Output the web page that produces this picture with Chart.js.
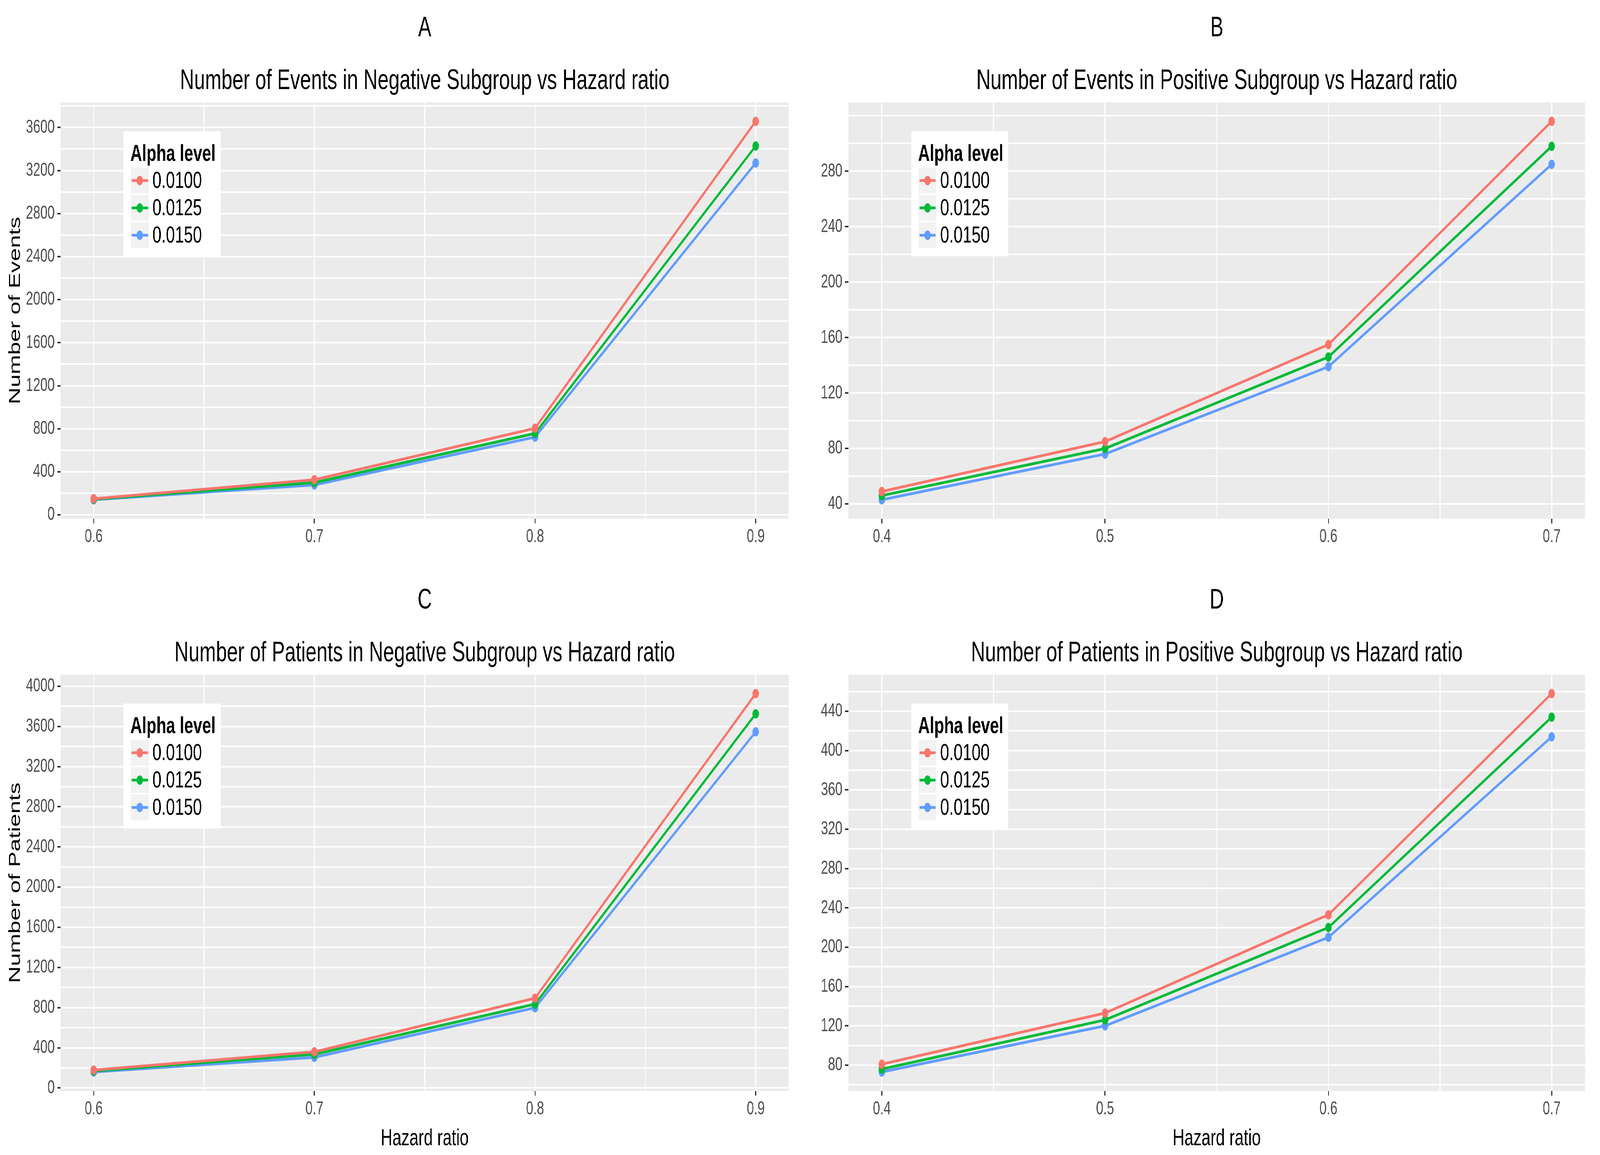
<!DOCTYPE html>
<html>
<head>
<meta charset="utf-8">
<script src="https://cdn.jsdelivr.net/npm/chart.js@4.4.1/dist/chart.umd.min.js"></script>
<style>
  html, body { margin: 0; padding: 0; background: #ffffff; overflow: hidden; }
  #figure { position: absolute; left: 0; top: 0; width: 5941px; height: 2957px; transform-origin: 0 0; }
  canvas { position: absolute; }
</style>
</head>
<body>
<div id="figure">
<canvas id="cA" width="2970" height="1465" style="left:0px;top:0px"></canvas>
<canvas id="cB" width="2971" height="1465" style="left:2970px;top:0px"></canvas>
<canvas id="cC" width="2970" height="1492" style="left:0px;top:1465px"></canvas>
<canvas id="cD" width="2971" height="1492" style="left:2970px;top:1465px"></canvas>
</div>
<script>
// the figure is laid out at 5941x2957 and stretched to fill the viewport we get
var fig = document.getElementById('figure');
fig.style.transform = 'scale(' + (window.innerWidth / 5941) + ',' + (window.innerHeight / 2957) + ')';

// hazard ratios on the x axis
var hrNegative = [0.6, 0.7, 0.8, 0.9];
var hrPositive = [0.4, 0.5, 0.6, 0.7];
var xLabelsNegative = ['0.6', '0.7', '0.8', '0.9'];
var xLabelsPositive = ['0.4', '0.5', '0.6', '0.7'];

var alphaLevels = ['0.0100', '0.0125', '0.0150'];
var alphaColors = ['#F8766D', '#00BA38', '#619CFF'];

// A - events, negative subgroup
var eventsNeg0100 = [150, 326, 805, 3657];
var eventsNeg0125 = [145, 300, 757, 3428];
var eventsNeg0150 = [140, 278, 723, 3270];
// B - events, positive subgroup
var eventsPos0100 = [49, 85, 155, 316];
var eventsPos0125 = [46, 80, 146, 298];
var eventsPos0150 = [43, 76, 139, 285];
// C - patients, negative subgroup
var patientsNeg0100 = [179, 360, 894, 3927];
var patientsNeg0125 = [170, 335, 835, 3725];
var patientsNeg0150 = [159, 305, 799, 3546];
// D - patients, positive subgroup
var patientsPos0100 = [81, 133, 233, 458];
var patientsPos0125 = [76, 126, 220, 434];
var patientsPos0150 = [73, 120, 210, 414];

// y tick labels of each panel
var yTicksA = [0, 400, 800, 1200, 1600, 2000, 2400, 2800, 3200, 3600];
var yTicksB = [40, 80, 120, 160, 200, 240, 280];
var yTicksC = [0, 400, 800, 1200, 1600, 2000, 2400, 2800, 3200, 3600, 4000];
var yTicksD = [80, 120, 160, 200, 240, 280, 320, 360, 400, 440];

var FONT = '"Liberation Sans", Arial, Helvetica, sans-serif';

// grey panel behind the plot
var panelBg = {
    id: 'panelBg',
    beforeDraw: function(chart) {
        var a = chart.chartArea, ctx = chart.ctx;
        ctx.save();
        ctx.fillStyle = '#EBEBEB';
        ctx.fillRect(a.left, a.top, a.right - a.left, a.bottom - a.top);
        ctx.restore();
    },
    // ggplot centres titles over the panel, not the whole figure
    afterLayout: function(chart) {
        var a = chart.chartArea;
        chart.boxes.forEach(function(b) {
            if (b.options && typeof b.options.text === 'string' && b.position === 'top') {
                b.left = a.left;
                b.right = a.right;
                b.width = a.right - a.left;
            }
        });
    }
};

// legend drawn inside the panel like ggplot's legend.position = c(x, y)
var insideLegend = {
    id: 'insideLegend',
    afterDatasetsDraw: function(chart, args, opts) {
        var ctx = chart.ctx, a = chart.chartArea;
        var x0 = a.left + opts.dx, y0 = a.top + opts.dy;
        ctx.save();
        ctx.fillStyle = '#ffffff';
        ctx.fillRect(x0, y0, 360, 320);
        ctx.fillStyle = '#000000';
        ctx.font = 'bold 60px ' + FONT;
        ctx.textBaseline = 'alphabetic';
        ctx.textAlign = 'left';
        ctx.fillText(opts.title, x0 + 25, y0 + 76);
        chart.data.datasets.forEach(function(ds, i) {
            var ky = y0 + 93 + i * 70;
            var kx = x0 + 27;
            ctx.fillStyle = '#F2F2F2';
            ctx.fillRect(kx, ky, 66, 66);
            ctx.strokeStyle = ds.borderColor;
            ctx.lineWidth = 7;
            ctx.beginPath();
            ctx.moveTo(kx + 3, ky + 33);
            ctx.lineTo(kx + 63, ky + 33);
            ctx.stroke();
            ctx.fillStyle = ds.borderColor;
            ctx.beginPath();
            ctx.arc(kx + 33, ky + 33, 12, 0, Math.PI * 2);
            ctx.fill();
            ctx.fillStyle = '#000000';
            ctx.font = '60px ' + FONT;
            ctx.textBaseline = 'middle';
            ctx.fillText(ds.label, x0 + 107, ky + 35);
        });
        ctx.restore();
    }
};

// ggplot style limits: data range plus 5% each side
function expandRange(values) {
    var lo = Math.min.apply(null, values), hi = Math.max.apply(null, values);
    var d = (hi - lo) * 0.05;
    return [lo - d, hi + d];
}

// major + minor grid positions inside the range
function gridValues(range, majors) {
    var step = (majors[1] - majors[0]) / 2;
    var out = [];
    for (var k = Math.ceil(range[0] / step - 1e-9); k <= Math.floor(range[1] / step + 1e-9); k++) {
        out.push(Math.round(k * step * 1e6) / 1e6);
    }
    return out;
}

function majorIndex(v, majors) {
    for (var i = 0; i < majors.length; i++) {
        if (Math.abs(majors[i] - v) < 1e-6) return i;
    }
    return -1;
}

function makeChart(id, p) {
    var allY = [].concat.apply([], p.series);
    var yRange = expandRange(allY);
    var xRange = expandRange(p.xs);
    var yGrid = gridValues(yRange, p.yTicks);
    var xGrid = gridValues(xRange, p.xs);

    var datasets = p.series.map(function(s, i) {
        return {
            label: alphaLevels[i],
            data: p.xs.map(function(x, j) { return {x: x, y: s[j]}; }),
            borderColor: alphaColors[i],
            backgroundColor: alphaColors[i],
            borderWidth: 7,
            pointRadius: 12,
            pointBorderWidth: 0,
            pointHoverRadius: 12,
            tension: 0,
            fill: false
        };
    });

    var tickColor = function(majors) {
        return function(c) {
            return (c.tick && majorIndex(c.tick.value, majors) >= 0) ? '#333333' : 'rgba(0,0,0,0)';
        };
    };

    return new Chart(document.getElementById(id), {
        type: 'line',
        data: {datasets: datasets},
        options: {
            responsive: false,
            animation: false,
            layout: {padding: {left: 0, right: p.padRight, top: 0, bottom: 0}},
            plugins: {
                legend: {display: false},
                tooltip: {enabled: false},
                title: {
                    display: true, text: p.letter, color: '#000000',
                    font: {family: FONT, size: 73, weight: 'normal', lineHeight: 1.2},
                    padding: {top: 29, bottom: 47}
                },
                subtitle: {
                    display: true, text: p.title, color: '#000000',
                    font: {family: FONT, size: 73, weight: 'normal', lineHeight: 1.2},
                    padding: {top: 0, bottom: 11}
                },
                insideLegend: {title: 'Alpha level', dx: 234, dy: 74}
            },
            scales: {
                x: {
                    type: 'linear',
                    min: xRange[0], max: xRange[1],
                    afterBuildTicks: function(scale) {
                        scale.ticks = xGrid.map(function(v) { return {value: v}; });
                    },
                    afterFit: function(scale) { scale.height = p.xHeight; },
                    border: {display: false},
                    grid: {color: '#ffffff', lineWidth: 4, tickLength: 12, tickWidth: 4, tickColor: tickColor(p.xs)},
                    ticks: {
                        autoSkip: false, maxRotation: 0, padding: 6, color: '#4D4D4D',
                        font: {family: FONT, size: 48},
                        callback: function(v) {
                            var k = majorIndex(v, p.xs);
                            return k >= 0 ? p.xLabels[k] : '';
                        }
                    },
                    title: {
                        display: !!p.xTitle, text: p.xTitle || '', color: '#000000',
                        font: {family: FONT, size: 60, lineHeight: 1.2},
                        padding: {top: 0, bottom: 6}
                    }
                },
                y: {
                    type: 'linear',
                    min: yRange[0], max: yRange[1],
                    afterBuildTicks: function(scale) {
                        scale.ticks = yGrid.map(function(v) { return {value: v}; });
                    },
                    afterFit: function(scale) { scale.width = p.yWidth; },
                    border: {display: false},
                    grid: {color: '#ffffff', lineWidth: 4, tickLength: 12, tickWidth: 4, tickColor: tickColor(p.yTicks)},
                    ticks: {
                        autoSkip: false, padding: 10, color: '#4D4D4D',
                        font: {family: FONT, size: 48},
                        callback: function(v) {
                            return majorIndex(v, p.yTicks) >= 0 ? String(v) : '';
                        }
                    },
                    title: {
                        display: !!p.yTitle, text: p.yTitle || '', color: '#000000',
                        font: {family: FONT, size: 60, lineHeight: 1.2},
                        padding: {top: 21, bottom: 0}
                    }
                }
            }
        },
        plugins: [panelBg, insideLegend]
    });
}

makeChart('cA', {
    letter: 'A', title: 'Number of Events in Negative Subgroup vs Hazard ratio',
    xs: hrNegative, xLabels: xLabelsNegative, yTicks: yTicksA,
    series: [eventsNeg0100, eventsNeg0125, eventsNeg0150],
    yTitle: 'Number of Events', xTitle: null,
    yWidth: 225, padRight: 41, xHeight: 137
});
makeChart('cB', {
    letter: 'B', title: 'Number of Events in Positive Subgroup vs Hazard ratio',
    xs: hrPositive, xLabels: xLabelsPositive, yTicks: yTicksB,
    series: [eventsPos0100, eventsPos0125, eventsPos0150],
    yTitle: null, xTitle: null,
    yWidth: 180, padRight: 55, xHeight: 137
});
makeChart('cC', {
    letter: 'C', title: 'Number of Patients in Negative Subgroup vs Hazard ratio',
    xs: hrNegative, xLabels: xLabelsNegative, yTicks: yTicksC,
    series: [patientsNeg0100, patientsNeg0125, patientsNeg0150],
    yTitle: 'Number of Patients', xTitle: 'Hazard ratio',
    yWidth: 225, padRight: 41, xHeight: 164
});
makeChart('cD', {
    letter: 'D', title: 'Number of Patients in Positive Subgroup vs Hazard ratio',
    xs: hrPositive, xLabels: xLabelsPositive, yTicks: yTicksD,
    series: [patientsPos0100, patientsPos0125, patientsPos0150],
    yTitle: null, xTitle: 'Hazard ratio',
    yWidth: 180, padRight: 55, xHeight: 164
});
</script>
</body>
</html>
